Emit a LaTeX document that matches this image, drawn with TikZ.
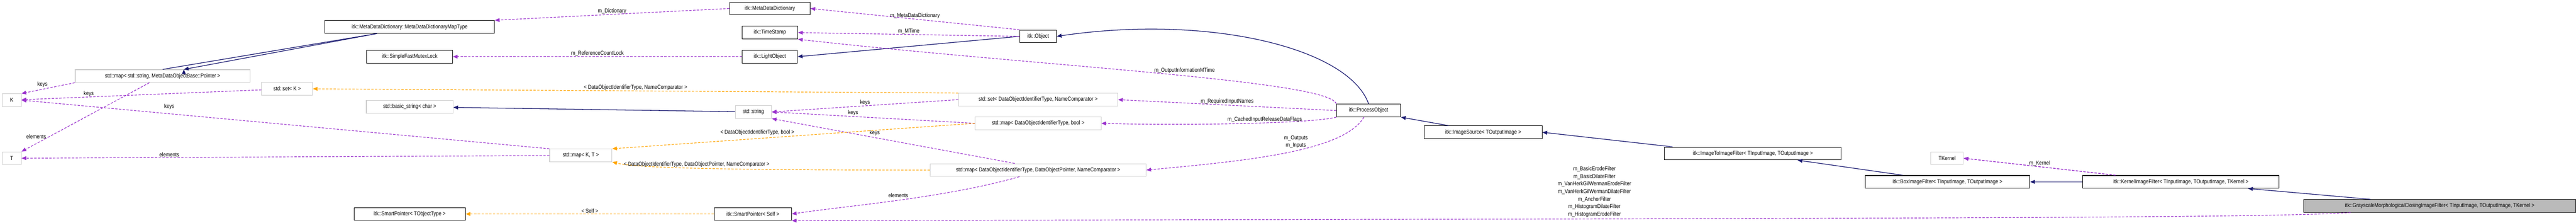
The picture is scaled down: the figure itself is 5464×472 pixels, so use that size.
\documentclass[tikz,border=0pt]{standalone}
\usepackage{fontspec}
\setmainfont[FakeStretch=0.86]{Liberation Sans}
\usepackage{tikz}
\usetikzlibrary{calc}
\usetikzlibrary{arrows.meta}

\definecolor{usecol}{HTML}{9A32CD}
\definecolor{tplcol}{HTML}{FFA500}
\definecolor{inhcol}{HTML}{191970}

\begin{document}
\begin{tikzpicture}[x=1pt,y=-1pt,
    cls/.style={draw=black,line width=1.2pt,fill=white,minimum height=27pt,inner sep=2pt,font=\fontsize{12}{14}\selectfont},
    ext/.style={cls,draw=black!20},
    inh/.style={draw=inhcol,line width=1.4pt,-{Triangle[length=10pt,width=8pt]}},
    use/.style={draw=usecol,line width=1.3pt,dash pattern=on 5pt off 3pt,-{Triangle[length=10pt,width=8pt]}},
    tpl/.style={draw=tplcol,line width=1.3pt,dash pattern=on 5pt off 3pt,-{Triangle[length=10pt,width=8pt]}},
    lbl/.style={font=\fontsize{12}{16}\selectfont,align=center,inner sep=1pt}]
    \useasboundingbox (0,0) rectangle (5464,472);

    \node [cls,minimum width=360] (mapType) at (869,57) {itk::MetaDataDictionary::MetaDataDictionaryMapType};
    \node [cls,minimum width=182] (mutex) at (869,120) {itk::SimpleFastMutexLock};
    \node [ext,minimum width=371] (mapStr) at (345,161) {std::map< std::string, MetaDataObjectBase::Pointer >};
    \node [ext,minimum width=108] (setK) at (609,188) {std::set< K >};
    \node [ext,minimum width=40] (K) at (25,212) {K};
    \node [ext,minimum width=184] (basicStr) at (869,226) {std::basic\_string< char >};
    \node [ext,minimum width=40] (T) at (25,335) {T};
    \node [ext,minimum width=132] (mapKT) at (1232,329) {std::map< K, T >};
    \node [cls,minimum width=236] (spObj) at (869,453) {itk::SmartPointer< TObjectType >};

    \node [cls,minimum width=171] (mdd) at (1633,18) {itk::MetaDataDictionary};
    \node [cls,minimum width=118] (stamp) at (1633,69) {itk::TimeStamp};
    \node [cls,minimum width=117] (light) at (1633,120) {itk::LightObject};
    \node [cls,minimum width=78] (object) at (2202,77) {itk::Object};
    \node [ext,minimum width=338] (setId) at (2202,211) {std::set< DataObjectIdentifierType, NameComparator >};
    \node [ext,minimum width=77] (str) at (1598,237) {std::string};
    \node [ext,minimum width=267] (mapBool) at (2202,261) {std::map< DataObjectIdentifierType, bool >};
    \node [ext,minimum width=458] (mapPtr) at (2202,360) {std::map< DataObjectIdentifierType, DataObjectPointer, NameComparator >};
    \node [cls,minimum width=164] (spSelf) at (1597,453) {itk::SmartPointer< Self >};

    \node [cls,minimum width=136] (process) at (2903,234) {itk::ProcessObject};
    \node [cls,minimum width=250] (source) at (3146,280) {itk::ImageSource< TOutputImage >};
    \node [cls,minimum width=375] (i2i) at (3718,325) {itk::ImageToImageFilter< TInputImage, TOutputImage >};
    \node [cls,minimum width=349] (box) at (4131,385) {itk::BoxImageFilter< TInputImage, TOutputImage >};
    \node [ext,minimum width=69] (kernel) at (4130,335) {TKernel};
    \node [cls,minimum width=416] (kfilter) at (4626,385) {itk::KernelImageFilter< TInputImage, TOutputImage, TKernel >};
    \node [cls,fill=black!27,minimum width=577] (closing) at (5175,436) {itk::GrayscaleMorphologicalClosingImageFilter< TInputImage, TOutputImage, TKernel >};

    % inheritance
    \draw [inh] (mapType.south west) ++(111,0) -- (mapStr.north) ++(45,0);
    \draw [inh] ($(mapType.south west)+(111,0)$) -- ($(mapStr.north)+(45,0)$);
    \draw [inh] (str) -- (basicStr);
    \draw [inh] (object.west) -- (light.east);
    \draw [inh] (process.north) .. controls (2860,100) and (2560,30) .. (object.east);
    \draw [inh] ($(source.north west)+(52,0)$) -- (process.south east);
    \draw [inh] ($(i2i.north west)+(18,0)$) -- (source.east);
    \draw [inh] ($(box.north west)+(80,0)$) -- ($(i2i.south west)+(283,0)$);
    \draw [inh] (kfilter) -- (box);
    \draw [inh] ($(closing.north west)+(142,0)$) -- ($(kfilter.south west)+(351,0)$);

    % members
    \draw [use] (mdd.west) -- node[lbl,above,pos=0.5] {m\_Dictionary} (mapType.north east);
    \draw [use] (light) -- node[lbl,above] {m\_ReferenceCountLock} (mutex);
    \draw [use] (mapStr.south west) -- node[lbl,above left] {keys} (K.north east);
    \draw [use] ($(mapStr.south west)+(158,0)$) -- node[lbl,pos=0.78,left=6pt] {elements} (T.north east);
    \draw [use] (setK) -- node[lbl,pos=0.72,above] {keys} (K);
    \draw [use] (mapKT.north west) -- node[lbl,pos=0.72,above=8pt] {keys} (K.east);
    \draw [use] (mapKT) -- node[lbl,pos=0.72,above] {elements} (T);
    \draw [use] (object.west) -- node[lbl,above] {m\_MTime} (stamp.east);
    \draw [use] (object.north west) -- node[lbl,above] {m\_MetaDataDictionary} (mdd.east);
    \draw [use] (process.north west) .. controls (2820,170) and (2200,140) .. node[lbl,pos=0.45,above=4pt] {m\_OutputInformationMTime} (stamp.south east);
    \draw [use] (process.west) -- node[lbl,pos=0.5,above] {m\_RequiredInputNames} (setId.east);
    \draw [use] (process.south west) .. controls (2780,262) and (2500,266) .. node[lbl,pos=0.4,above] {m\_CachedInputReleaseDataFlags} (mapBool.east);
    \draw [use] ($(process.south)+(-10,0)$) .. controls (2850,320) and (2650,340) .. node[lbl,pos=0.3,left=40pt] {m\_Outputs\\m\_Inputs} (mapPtr.east);
    \draw [use] (setId.west) -- node[lbl,above] {keys} (str.east);
    \draw [use] (mapBool.west) -- node[lbl,pos=0.6,above] {keys} (str.east);
    \draw [use] ($(mapPtr.north west)+(180,0)$) -- node[lbl,pos=0.6,above right] {keys} (str.south east);
    \draw [use] ($(mapPtr.south west)+(190,0)$) .. controls (2000,420) and (1800,435) .. node[lbl,pos=0.5,above=4pt] {elements} (spSelf.east);
    \draw [use] (kfilter.north west) ++(70,0) -- (kernel.east);
    \draw [use] ($(kfilter.north west)+(70,0)$) -- node[lbl,above] {m\_Kernel} (kernel.east);
    \draw [use] ($(closing.south west)+(100,0)$) .. controls (4800,462) and (4000,462) .. node[lbl,pos=0.7,above=2pt] {m\_BasicErodeFilter\\m\_BasicDilateFilter\\m\_VanHerkGilWermanErodeFilter\\m\_VanHerkGilWermanDilateFilter\\m\_AnchorFilter\\m\_HistogramDilateFilter\\m\_HistogramErodeFilter} (spSelf.south east);

    % template instances
    \draw [tpl] (setId.north west) -- node[lbl,pos=0.5,above] {< DataObjectIdentifierType, NameComparator >} (setK.east);
    \draw [tpl] (mapBool.west) -- node[lbl,pos=0.6,above=6pt] {< DataObjectIdentifierType, bool >} (mapKT.north east);
    \draw [tpl] (mapPtr.west) .. controls (1500,360) and (1350,355) .. node[lbl,pos=0.5,above] {< DataObjectIdentifierType, DataObjectPointer, NameComparator >} (mapKT.south east);
    \draw [tpl] (spSelf) -- node[lbl,above] {< Self >} (spObj);
\end{tikzpicture}
\end{document}
